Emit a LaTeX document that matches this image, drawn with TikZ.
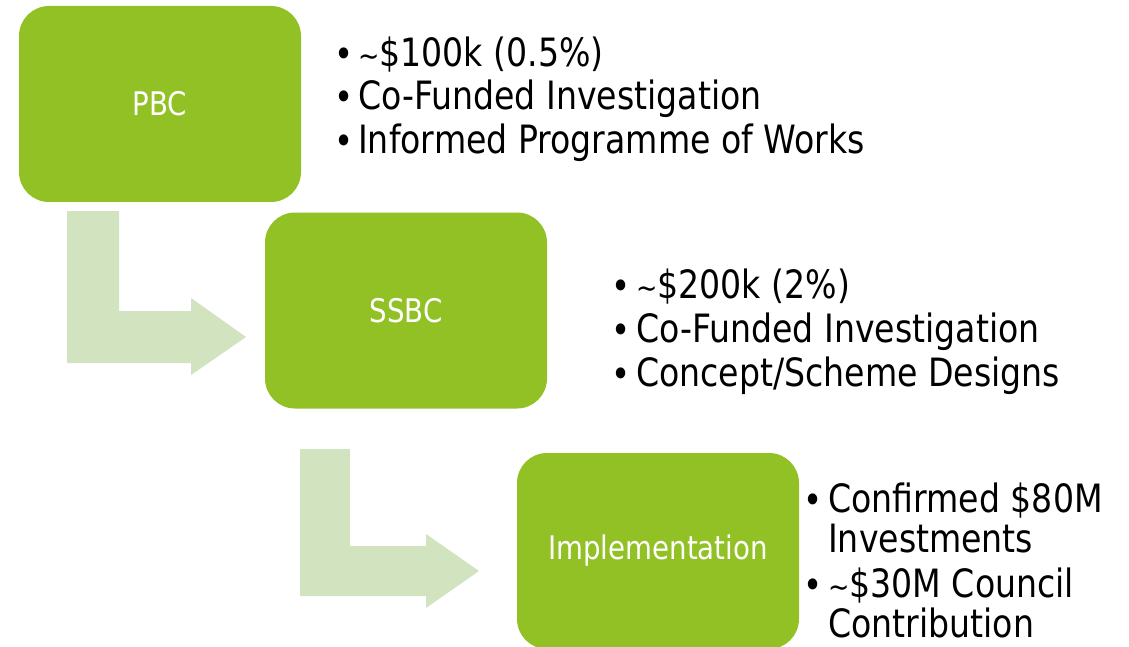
\documentclass[tikz,border=0pt]{standalone}
\usepackage{fontspec}
\setmainfont{DejaVu Sans}[FakeStretch=0.85]
\definecolor{boxgreen}{RGB}{146,193,38}
\definecolor{arrowgreen}{RGB}{210,227,192}
\newcommand{\smalltilde}{{\fontsize{30}{30}\selectfont\char"007E}}
\begin{document}
\begin{tikzpicture}[x=1pt,y=-1pt,
  stagebox/.style={fill=boxgreen, rounded corners=30pt, inner sep=0pt, minimum width=282pt, minimum height=196pt, text=white, font=\fontsize{32.5}{36}\selectfont},
  bentarrow/.style={fill=arrowgreen},
  bullettext/.style={anchor=base west, inner sep=0pt, font=\fontsize{39}{44}\selectfont},
  bulletdot/.style={anchor=base west, inner sep=0pt, font=\fontsize{38}{44}\selectfont}]
\useasboundingbox (0,0) rectangle (1129,647);
% bent arrows
\coordinate (a1) at (67,211);
\fill[bentarrow] (a1) -- (119,211) -- (119,311) -- (191,311) -- (191,298) -- (246,337) -- (191,375) -- (191,363) -- (67,363) -- cycle;
\coordinate (a2) at (300,449);
\fill[bentarrow] (a2) -- (350,449) -- (350,546) -- (426,546) -- (426,534) -- (479,571) -- (426,608) -- (426,596) -- (300,596) -- cycle;
% boxes
\node[stagebox] (pbc) at (160,104) {PBC};
\node[stagebox] (ssbc) at (406,310.5) {SSBC};
\node[stagebox] (impl) at (658,551) {Implementation};
% PBC bullets
\node[bulletdot] (b1a) at (334,68) {•};
\node[bullettext] (t1a) at (358,67) {\smalltilde\$100k (0.5\%)};
\node[bulletdot] (b1b) at (334,111) {•};
\node[bullettext] (t1b) at (358,110) {Co-Funded Investigation};
\node[bulletdot] (b1c) at (334,155) {•};
\node[bullettext] (t1c) at (358,154) {Informed Programme of Works};
% SSBC bullets
\node[bulletdot] (b2a) at (611,299) {•};
\node[bullettext] (t2a) at (636,298) {\smalltilde\$200k (2\%)};
\node[bulletdot] (b2b) at (611,343) {•};
\node[bullettext] (t2b) at (636,342) {Co-Funded Investigation};
\node[bulletdot] (b2c) at (611,387) {•};
\node[bullettext] (t2c) at (636,386) {Concept/Scheme Designs};
% Implementation bullets
\node[bulletdot] (b3a) at (803,513) {•};
\node[bullettext] (t3a) at (828,512) {Confirmed \$80M};
\node[bullettext] (t3a2) at (828,552) {Investments};
\node[bulletdot] (b3b) at (803,598) {•};
\node[bullettext] (t3b) at (828,597) {\smalltilde\$30M Council};
\node[bullettext] (t3b2) at (828,637) {Contribution};
\end{tikzpicture}
\end{document}
